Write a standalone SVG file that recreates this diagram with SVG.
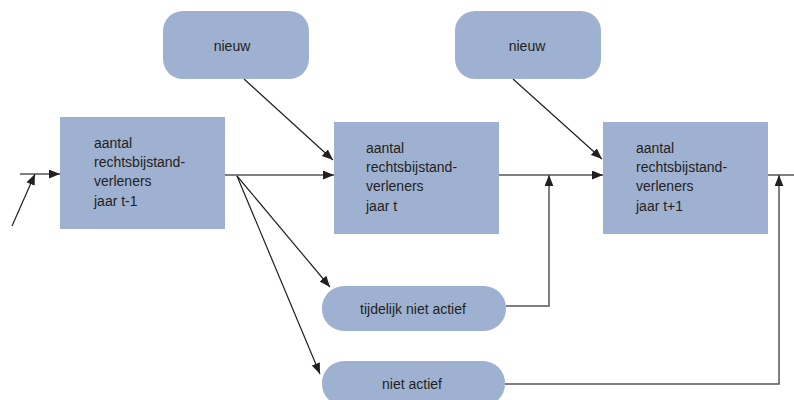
<svg xmlns="http://www.w3.org/2000/svg" width="794" height="400" viewBox="0 0 794 400">
<style>
.box{fill:#9fb1d1;}
.t{font-family:"Liberation Sans",Arial,sans-serif;font-size:14px;fill:#231f20;}
.c{text-anchor:middle;}
.diag{stroke:#231f20;stroke-width:1.2;fill:none;}
.orth{stroke:#555;stroke-width:1.5;fill:none;}
</style>
<defs>
<marker id="ah" viewBox="0 0 10 8" refX="10" refY="4" markerWidth="11" markerHeight="9" markerUnits="userSpaceOnUse" orient="auto">
<path d="M0,0 L10,4 L0,8 Z" fill="#231f20"/>
</marker>
</defs>
<rect width="794" height="400" fill="#ffffff"/>
<g id="connectors">
<line class="orth" x1="20" y1="174" x2="60" y2="174" marker-end="url(#ah)"/>
<line class="diag" x1="12" y1="226" x2="35" y2="174" marker-end="url(#ah)"/>
<line class="orth" x1="225" y1="175" x2="334" y2="175" marker-end="url(#ah)"/>
<line class="orth" x1="499" y1="175" x2="603" y2="175" marker-end="url(#ah)"/>
<line class="orth" x1="768" y1="175" x2="794" y2="175"/>
<line class="diag" x1="244" y1="79" x2="333" y2="160" marker-end="url(#ah)"/>
<line class="diag" x1="513" y1="79" x2="602" y2="159" marker-end="url(#ah)"/>
<line class="diag" x1="237" y1="176" x2="330" y2="287" marker-end="url(#ah)"/>
<line class="diag" x1="237" y1="176" x2="320" y2="374" marker-end="url(#ah)"/>
<polyline class="orth" points="506,306 549,306 549,175" marker-end="url(#ah)"/>
<polyline class="orth" points="505,384 779,384 779,175" marker-end="url(#ah)"/>
</g>
<g id="box1">
<rect class="box" x="60" y="117" width="165" height="112"/>
<text class="t" x="94" y="148">aantal</text>
<text class="t" x="94" y="167">rechtsbijstand-</text>
<text class="t" x="94" y="186">verleners</text>
<text class="t" x="94" y="206">jaar t-1</text>
</g>
<g id="box2">
<rect class="box" x="334" y="122" width="165" height="112"/>
<text class="t" x="366" y="153">aantal</text>
<text class="t" x="366" y="172">rechtsbijstand-</text>
<text class="t" x="366" y="191">verleners</text>
<text class="t" x="366" y="211">jaar t</text>
</g>
<g id="box3">
<rect class="box" x="603" y="122" width="165" height="112"/>
<text class="t" x="636" y="153">aantal</text>
<text class="t" x="636" y="172">rechtsbijstand-</text>
<text class="t" x="636" y="191">verleners</text>
<text class="t" x="636" y="211">jaar t+1</text>
</g>
<g id="nieuw1">
<rect class="box" x="163" y="11" width="146" height="68" rx="20"/>
<text class="t c" x="232" y="51">nieuw</text>
</g>
<g id="nieuw2">
<rect class="box" x="455" y="11" width="146" height="68" rx="20"/>
<text class="t c" x="527" y="51">nieuw</text>
</g>
<g id="tijdelijk">
<rect class="box" x="322" y="286" width="184" height="45" rx="22"/>
<text class="t c" x="413" y="314">tijdelijk niet actief</text>
</g>
<g id="nietactief">
<rect class="box" x="322" y="361" width="183" height="45" rx="22"/>
<text class="t c" x="412" y="389">niet actief</text>
</g>
</svg>
